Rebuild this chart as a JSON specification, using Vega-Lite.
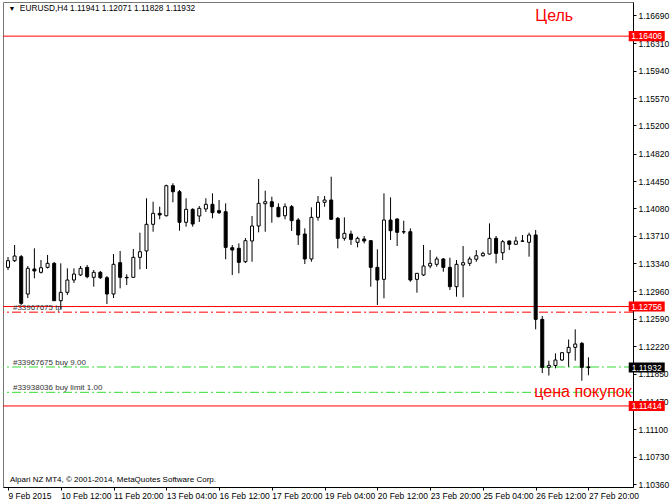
{
  "$schema": "https://vega.github.io/schema/vega-lite/v6.json",
  "width": 630,
  "height": 485,
  "autosize": {"type": "none"},
  "padding": {"left": 3, "top": 2, "right": 37, "bottom": 15},
  "background": "white",
  "config": {
    "view": {"stroke": "#777", "strokeWidth": 1},
    "font": "Liberation Sans",
    "axis": {"title": null, "grid": false, "domainColor": "black", "tickColor": "black", "labelColor": "black", "labelFont": "Liberation Sans", "labelFontSize": 8.5, "labelFlush": false, "labelOverlap": false, "tickSize": 3}
  },
  "datasets": {
    "candles": [
      {"i":0,"o":1.13285,"h":1.13425,"l":1.13249,"c":1.13375},
      {"i":1,"o":1.13375,"h":1.13587,"l":1.13357,"c":1.13438},
      {"i":2,"o":1.13429,"h":1.13452,"l":1.12777,"c":1.12799},
      {"i":3,"o":1.12925,"h":1.13303,"l":1.12871,"c":1.13272},
      {"i":4,"o":1.13263,"h":1.13542,"l":1.13137,"c":1.13236},
      {"i":5,"o":1.13218,"h":1.13384,"l":1.13202,"c":1.13280},
      {"i":6,"o":1.13285,"h":1.13452,"l":1.13269,"c":1.13339},
      {"i":7,"o":1.13339,"h":1.13357,"l":1.12831,"c":1.12835},
      {"i":8,"o":1.12835,"h":1.13339,"l":1.12723,"c":1.12948},
      {"i":9,"o":1.12948,"h":1.13272,"l":1.12912,"c":1.13114},
      {"i":10,"o":1.13114,"h":1.13272,"l":1.13074,"c":1.13195},
      {"i":11,"o":1.13182,"h":1.13303,"l":1.13168,"c":1.13272},
      {"i":12,"o":1.13285,"h":1.13317,"l":1.13137,"c":1.13159},
      {"i":13,"o":1.13150,"h":1.13249,"l":1.13024,"c":1.13218},
      {"i":14,"o":1.13218,"h":1.13236,"l":1.13128,"c":1.13145},
      {"i":15,"o":1.13145,"h":1.13168,"l":1.12790,"c":1.12925},
      {"i":16,"o":1.12925,"h":1.13465,"l":1.12871,"c":1.13326},
      {"i":17,"o":1.13348,"h":1.13506,"l":1.13002,"c":1.13150},
      {"i":18,"o":1.13150,"h":1.13191,"l":1.13047,"c":1.13144},
      {"i":19,"o":1.13150,"h":1.13533,"l":1.13141,"c":1.13420},
      {"i":20,"o":1.13420,"h":1.13753,"l":1.13258,"c":1.13496},
      {"i":21,"o":1.13506,"h":1.14217,"l":1.13263,"c":1.13866},
      {"i":22,"o":1.13866,"h":1.14171,"l":1.13766,"c":1.14014},
      {"i":23,"o":1.14014,"h":1.14104,"l":1.13934,"c":1.13992},
      {"i":24,"o":1.13982,"h":1.14401,"l":1.13971,"c":1.14387},
      {"i":25,"o":1.14387,"h":1.14420,"l":1.14163,"c":1.14306},
      {"i":26,"o":1.14306,"h":1.14329,"l":1.13780,"c":1.13893},
      {"i":27,"o":1.13893,"h":1.14217,"l":1.13834,"c":1.14068},
      {"i":28,"o":1.14068,"h":1.14082,"l":1.13834,"c":1.13870},
      {"i":29,"o":1.13978,"h":1.14113,"l":1.13897,"c":1.14082},
      {"i":30,"o":1.14073,"h":1.14217,"l":1.14032,"c":1.14136},
      {"i":31,"o":1.14136,"h":1.14284,"l":1.13947,"c":1.14023},
      {"i":32,"o":1.14050,"h":1.14194,"l":1.14005,"c":1.14023},
      {"i":33,"o":1.14036,"h":1.14149,"l":1.13394,"c":1.13555},
      {"i":34,"o":1.13550,"h":1.13587,"l":1.13182,"c":1.13519},
      {"i":35,"o":1.13542,"h":1.13609,"l":1.13204,"c":1.13353},
      {"i":36,"o":1.13361,"h":1.13681,"l":1.13344,"c":1.13645},
      {"i":37,"o":1.13641,"h":1.13978,"l":1.13361,"c":1.13843},
      {"i":38,"o":1.13843,"h":1.14478,"l":1.13758,"c":1.14149},
      {"i":39,"o":1.14144,"h":1.14320,"l":1.13766,"c":1.14171},
      {"i":40,"o":1.14171,"h":1.14239,"l":1.13888,"c":1.14104},
      {"i":41,"o":1.14095,"h":1.14149,"l":1.13960,"c":1.13969},
      {"i":42,"o":1.13982,"h":1.14149,"l":1.13934,"c":1.14104},
      {"i":43,"o":1.14104,"h":1.14127,"l":1.13776,"c":1.13915},
      {"i":44,"o":1.13924,"h":1.13951,"l":1.13587,"c":1.13722},
      {"i":45,"o":1.13735,"h":1.13812,"l":1.13330,"c":1.13398},
      {"i":46,"o":1.13398,"h":1.14095,"l":1.13361,"c":1.13960},
      {"i":47,"o":1.13960,"h":1.14248,"l":1.13915,"c":1.14163},
      {"i":48,"o":1.14163,"h":1.14248,"l":1.14104,"c":1.14194},
      {"i":49,"o":1.14194,"h":1.14509,"l":1.13924,"c":1.13934},
      {"i":50,"o":1.13947,"h":1.13965,"l":1.13542,"c":1.13677},
      {"i":51,"o":1.13677,"h":1.13960,"l":1.13645,"c":1.13744},
      {"i":52,"o":1.13735,"h":1.13780,"l":1.13587,"c":1.13663},
      {"i":53,"o":1.13623,"h":1.13699,"l":1.13555,"c":1.13677},
      {"i":54,"o":1.13668,"h":1.13708,"l":1.13609,"c":1.13641},
      {"i":55,"o":1.13645,"h":1.13654,"l":1.13024,"c":1.13285},
      {"i":56,"o":1.13285,"h":1.13528,"l":1.12777,"c":1.13114},
      {"i":57,"o":1.13123,"h":1.14284,"l":1.12867,"c":1.13924},
      {"i":58,"o":1.13924,"h":1.14230,"l":1.13654,"c":1.13780},
      {"i":59,"o":1.13938,"h":1.13947,"l":1.13573,"c":1.13758},
      {"i":60,"o":1.13766,"h":1.13915,"l":1.13735,"c":1.13763},
      {"i":61,"o":1.13766,"h":1.13812,"l":1.13091,"c":1.13114},
      {"i":62,"o":1.13123,"h":1.13209,"l":1.12943,"c":1.13204},
      {"i":63,"o":1.13182,"h":1.13587,"l":1.13168,"c":1.13303},
      {"i":64,"o":1.13303,"h":1.13519,"l":1.13272,"c":1.13339},
      {"i":65,"o":1.13326,"h":1.13429,"l":1.13294,"c":1.13398},
      {"i":66,"o":1.13398,"h":1.13411,"l":1.13226,"c":1.13285},
      {"i":67,"o":1.13285,"h":1.13415,"l":1.12979,"c":1.13024},
      {"i":68,"o":1.13024,"h":1.13384,"l":1.12889,"c":1.13326},
      {"i":69,"o":1.13317,"h":1.13573,"l":1.12880,"c":1.13348},
      {"i":70,"o":1.13339,"h":1.13429,"l":1.13303,"c":1.13398},
      {"i":71,"o":1.13394,"h":1.13519,"l":1.13361,"c":1.13442},
      {"i":72,"o":1.13442,"h":1.13496,"l":1.13429,"c":1.13474},
      {"i":73,"o":1.13465,"h":1.13879,"l":1.13459,"c":1.13677},
      {"i":74,"o":1.13677,"h":1.13708,"l":1.13339,"c":1.13474},
      {"i":75,"o":1.13483,"h":1.13654,"l":1.13384,"c":1.13631},
      {"i":76,"o":1.13641,"h":1.13647,"l":1.13519,"c":1.13596},
      {"i":77,"o":1.13596,"h":1.13699,"l":1.13587,"c":1.13641},
      {"i":78,"o":1.13641,"h":1.13722,"l":1.13627,"c":1.13638},
      {"i":79,"o":1.13623,"h":1.13753,"l":1.13429,"c":1.13722},
      {"i":80,"o":1.13722,"h":1.13789,"l":1.12448,"c":1.12583},
      {"i":81,"o":1.12583,"h":1.12628,"l":1.11859,"c":1.11935},
      {"i":82,"o":1.11935,"h":1.12025,"l":1.11825,"c":1.11962},
      {"i":83,"o":1.11960,"h":1.12124,"l":1.11922,"c":1.12034},
      {"i":84,"o":1.12034,"h":1.12142,"l":1.12021,"c":1.12133},
      {"i":85,"o":1.12133,"h":1.12311,"l":1.11944,"c":1.12205},
      {"i":86,"o":1.12205,"h":1.12448,"l":1.12025,"c":1.12250},
      {"i":87,"o":1.12259,"h":1.12277,"l":1.11755,"c":1.11935},
      {"i":88,"o":1.11941,"h":1.12071,"l":1.11828,"c":1.11932}
    ],
    "levels": [{"p": 1.16406}, {"p": 1.12756}, {"p": 1.11414}],
    "orders": [
      {"p": 1.12680, "kind": "tp"},
      {"p": 1.11940, "kind": "buy"},
      {"p": 1.11598, "kind": "limit"}
    ],
    "notes": [
      {"x": 0.75, "p": 1.12743, "t": "#33967675 tp"},
      {"x": 0.75, "p": 1.12000, "t": "#33967675 buy 9.00"},
      {"x": 0.75, "p": 1.11656, "t": "#33938036 buy limit 1.00"}
    ],
    "tags": [
      {"p": 1.16406, "kind": "level"},
      {"p": 1.12756, "kind": "level"},
      {"p": 1.11414, "kind": "level"},
      {"p": 1.11932, "kind": "bid"}
    ],
    "one": [{}]
  },
  "layer": [
    {
      "data": {"name": "levels"},
      "mark": {"type": "rule", "color": "#ff0000", "strokeWidth": 1},
      "encoding": {
        "y": {"field": "p", "type": "quantitative", "scale": {"domain": [1.10320, 1.16867], "nice": false, "zero": false},
              "axis": {"orient": "right", "values": [1.1036,1.1073,1.111,1.1147,1.1185,1.1222,1.1259,1.1296,1.1334,1.1371,1.1408,1.1445,1.1482,1.152,1.1557,1.1594,1.1631,1.1669], "tickCount": 40, "format": ".5f", "labelPadding": 2, "labelOverlap": false, "labelFlush": false}}
      }
    },
    {
      "data": {"name": "orders"},
      "mark": {"type": "rule", "strokeWidth": 1, "strokeDash": [9, 3, 2, 3]},
      "encoding": {
        "y": {"field": "p", "type": "quantitative"},
        "color": {"field": "kind", "type": "nominal", "legend": null, "scale": {"domain": ["tp", "buy", "limit"], "range": ["#ff0000", "#33dd33", "#33dd33"]}}
      }
    },
    {
      "data": {"name": "candles"},
      "mark": {"type": "rule", "color": "black", "strokeWidth": 1},
      "encoding": {
        "x": {"field": "i", "type": "quantitative", "scale": {"domain": [0, 94], "nice": false, "zero": false},
              "axis": {"orient": "bottom", "values": [0,8,16,24,32,40,48,56,64,72,80,88], "tickCount": 40, "labelAlign": "left", "labelPadding": 1, "labelOverlap": false, "labelFlush": false,
                       "labelExpr": "['9 Feb 2015','10 Feb 12:00','11 Feb 20:00','13 Feb 04:00','16 Feb 12:00','17 Feb 20:00','19 Feb 04:00','20 Feb 12:00','23 Feb 20:00','25 Feb 04:00','26 Feb 12:00','27 Feb 20:00'][round(datum.value/8)]"}},
        "y": {"field": "l", "type": "quantitative"},
        "y2": {"field": "h"}
      }
    },
    {
      "data": {"name": "candles"},
      "mark": {"type": "bar", "size": 3, "stroke": "black", "strokeWidth": 1},
      "encoding": {
        "x": {"field": "i", "type": "quantitative"},
        "y": {"field": "o", "type": "quantitative"},
        "y2": {"field": "c"},
        "fill": {"condition": {"test": "datum.c > datum.o", "value": "white"}, "value": "black"}
      }
    },
    {
      "data": {"name": "notes"},
      "mark": {"type": "text", "align": "left", "baseline": "middle", "fontSize": 8, "color": "#333"},
      "encoding": {
        "x": {"field": "x", "type": "quantitative"},
        "y": {"field": "p", "type": "quantitative"},
        "text": {"field": "t"}
      }
    },
    {
      "data": {"name": "one"},
      "mark": {"type": "text", "align": "left", "baseline": "middle", "fontSize": 16, "color": "#ff0000", "font": "Liberation Sans"},
      "encoding": {
        "x": {"datum": 79.95, "type": "quantitative"},
        "y": {"datum": 1.16678, "type": "quantitative"},
        "text": {"value": "Цель"}
      }
    },
    {
      "data": {"name": "one"},
      "mark": {"type": "text", "align": "left", "baseline": "middle", "fontSize": 16, "color": "#ff0000", "font": "Liberation Sans"},
      "encoding": {
        "x": {"datum": 79.8, "type": "quantitative"},
        "y": {"datum": 1.11602, "type": "quantitative"},
        "text": {"value": "цена покупок"}
      }
    },
    {
      "data": {"name": "one"},
      "mark": {"type": "text", "align": "center", "baseline": "middle", "fontSize": 7, "color": "black"},
      "encoding": {
        "x": {"datum": 0.6, "type": "quantitative"},
        "y": {"datum": 1.16773, "type": "quantitative"},
        "text": {"value": "▼"}
      }
    },
    {
      "data": {"name": "one"},
      "mark": {"type": "text", "align": "left", "baseline": "middle", "fontSize": 8.3, "color": "black"},
      "encoding": {
        "x": {"datum": 1.8, "type": "quantitative"},
        "y": {"datum": 1.16773, "type": "quantitative"},
        "text": {"value": "EURUSD,H4  1.11941 1.12071 1.11828 1.11932"}
      }
    },
    {
      "data": {"name": "one"},
      "mark": {"type": "text", "align": "left", "baseline": "middle", "fontSize": 8, "color": "black"},
      "encoding": {
        "x": {"datum": 0.3, "type": "quantitative"},
        "y": {"datum": 1.10414, "type": "quantitative"},
        "text": {"value": "Alpari NZ MT4, © 2001-2014, MetaQuotes Software Corp."}
      }
    },
    {
      "data": {"name": "tags"},
      "mark": {"type": "point", "filled": true, "opacity": 1, "shape": "M-1,-0.28H1V0.28H-1Z", "size": 1296, "clip": false},
      "encoding": {
        "x": {"datum": 96.84, "type": "quantitative"},
        "y": {"field": "p", "type": "quantitative"},
        "color": {"field": "kind", "type": "nominal", "legend": null, "scale": {"domain": ["level", "bid"], "range": ["#ff0000", "#000000"]}}
      }
    },
    {
      "data": {"name": "tags"},
      "mark": {"type": "text", "align": "center", "baseline": "middle", "fontSize": 8.5, "color": "white", "clip": false},
      "encoding": {
        "x": {"datum": 96.84, "type": "quantitative"},
        "y": {"field": "p", "type": "quantitative"},
        "text": {"field": "p", "type": "quantitative", "format": ".5f"}
      }
    }
  ],
  "resolve": {"scale": {"color": "independent"}}
}
